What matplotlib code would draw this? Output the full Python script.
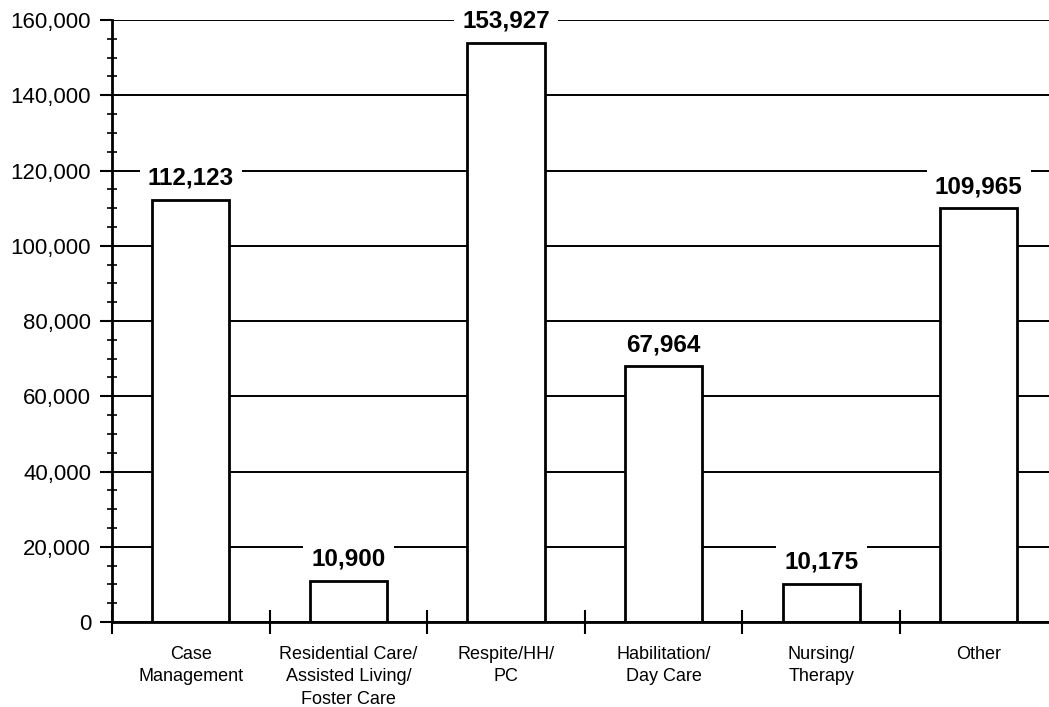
import matplotlib.pyplot as plt
import numpy as np
from matplotlib.ticker import FuncFormatter, MultipleLocator, FixedLocator

# service categories and number of people served
categories = ["Case\nManagement", "Residential Care/\nAssisted Living/\nFoster Care",
              "Respite/HH/\nPC", "Habilitation/\nDay Care", "Nursing/\nTherapy", "Other"]
values = [112123, 10900, 153927, 67964, 10175, 109965]

plt.rcParams['font.family'] = ['Liberation Sans', 'DejaVu Sans']

fig = plt.figure(figsize=(10.49, 7.07), dpi=100)
ax = fig.add_axes([0.1068, 0.1202, 0.8932, 0.8515])

x = np.arange(len(categories))
ax.bar(x, values, width=0.49, color='white', edgecolor='black', linewidth=2, zorder=3)

for xi, v in zip(x, values):
    ax.text(xi, v + 2700, "{:,}".format(v), ha='center', va='bottom',
            fontsize=17.5, fontweight='bold', zorder=4, clip_on=False,
            bbox=dict(facecolor='white', edgecolor='none', pad=6))

ax.set_ylim(0, 160000)
ax.set_xlim(-0.5, 5.445)

# horizontal grid lines every 20,000
ax.yaxis.set_major_locator(MultipleLocator(20000))
ax.yaxis.set_minor_locator(MultipleLocator(5000))
ax.yaxis.set_major_formatter(FuncFormatter(lambda v, p: "{:,}".format(int(v))))
ax.grid(axis='y', color='black', linewidth=1.4, zorder=1)
ax.tick_params(axis='y', which='major', direction='out', length=9, width=1.5,
               labelsize=16, pad=6)
ax.tick_params(axis='y', which='minor', direction='inout', length=7, width=1.2)

# category labels centred, ticks at the boundaries between categories
ax.xaxis.set_major_locator(FixedLocator(x - 0.5))
ax.xaxis.set_major_formatter(FuncFormatter(lambda v, p: ""))
ax.xaxis.set_minor_locator(FixedLocator(x))
ax.set_xticklabels(categories, minor=True)
ax.tick_params(axis='x', which='major', direction='inout', length=17, width=1.5)
ax.tick_params(axis='x', which='minor', length=0, labelsize=13, pad=17)
for lbl in ax.get_xticklabels(minor=True):
    lbl.set_linespacing(1.45)
    lbl.set_va('top')

for side in ['top', 'right']:
    ax.spines[side].set_visible(False)
ax.spines['left'].set_linewidth(2)
ax.spines['bottom'].set_linewidth(2)
ax.spines['left'].set_zorder(5)
ax.spines['bottom'].set_zorder(5)

fig.savefig("out.png", dpi=100)
